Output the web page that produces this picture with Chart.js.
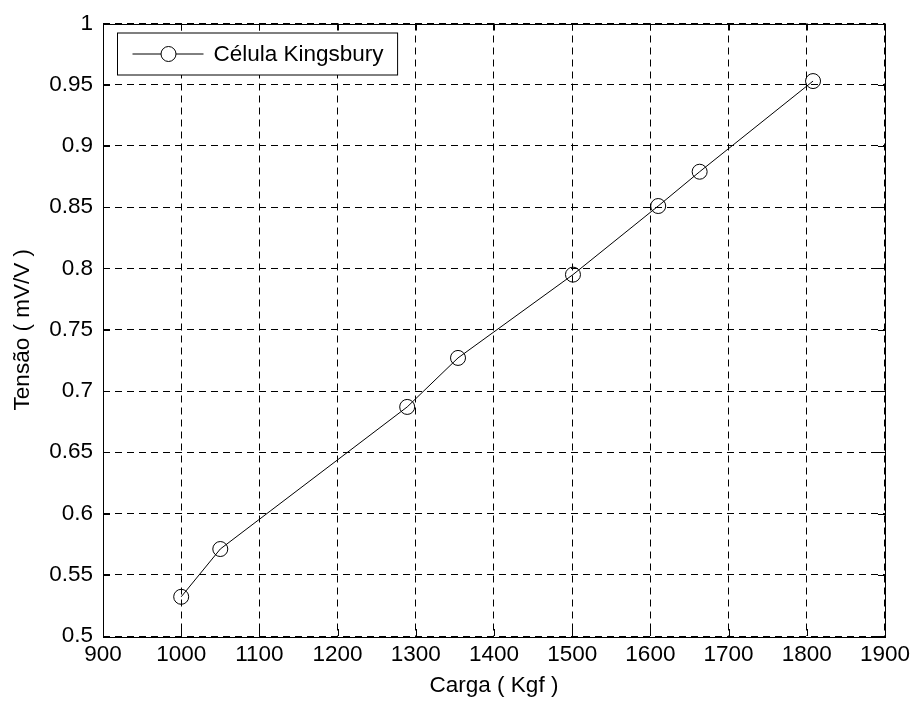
<!DOCTYPE html>
<html>
<head>
<meta charset="utf-8">
<script src="https://cdn.jsdelivr.net/npm/chart.js@4"></script>
<style>
  html, body { margin:0; padding:0; background:#fff; }
  canvas { display:block; }
</style>
</head>
<body>
<canvas id="kingsburyChart" width="915" height="702"></canvas>
<script>
const seriesLabel = "Célula Kingsbury";
const cargaKgf = [1000, 1050, 1289, 1354, 1501, 1610, 1663, 1808];
const tensaoMvV = [0.532, 0.571, 0.687, 0.727, 0.795, 0.851, 0.879, 0.953];
const xTicks = [900, 1000, 1100, 1200, 1300, 1400, 1500, 1600, 1700, 1800, 1900];
const yTicks = [0.5, 0.55, 0.6, 0.65, 0.7, 0.75, 0.8, 0.85, 0.9, 0.95, 1];
const yTickLabels = ["0.5", "0.55", "0.6", "0.65", "0.7", "0.75", "0.8", "0.85", "0.9", "0.95", "1"];

const FONT = "Liberation Sans, Arial, sans-serif";
const FS = 22.5;

// matlab style box + inward ticks + legend
const matlabFrame = {
  id:"matlabFrame",
  afterDraw(chart){
    const { ctx, chartArea:a, scales } = chart;
    const tl = 7;
    ctx.save();
    ctx.strokeStyle = "#000";
    ctx.lineWidth = 1;
    ctx.setLineDash([]);
    ctx.beginPath();
    scales.x.ticks.forEach(t => {
      const px = Math.round(scales.x.getPixelForValue(t.value)) + .5;
      ctx.moveTo(px, a.bottom); ctx.lineTo(px, a.bottom - tl);
      ctx.moveTo(px, a.top); ctx.lineTo(px, a.top + tl);
    });
    scales.y.ticks.forEach(t => {
      const py = Math.round(scales.y.getPixelForValue(t.value)) + .5;
      ctx.moveTo(a.left, py); ctx.lineTo(a.left + tl, py);
      ctx.moveTo(a.right, py); ctx.lineTo(a.right - tl, py);
    });
    ctx.stroke();
    ctx.strokeRect(Math.round(a.left) + .5, Math.round(a.top) + .5, Math.round(a.right - a.left), Math.round(a.bottom - a.top));

    // legend
    const label = chart.data.datasets[0].label;
    ctx.font = FS + "px " + FONT;
    const tw = ctx.measureText(label).width;
    const bx = a.left + 14.5, by = a.top + 9.5;
    const textX = bx + 96;
    const bw = textX - bx + tw + 14, bh = 42;
    ctx.fillStyle = "#fff";
    ctx.fillRect(bx, by, bw, bh);
    ctx.strokeRect(bx, by, bw, bh);
    const cy = by + bh / 2;
    ctx.beginPath();
    ctx.moveTo(bx + 15, cy); ctx.lineTo(bx + 86, cy);
    ctx.stroke();
    ctx.beginPath();
    ctx.arc(bx + 51, cy, 7.5, 0, Math.PI * 2);
    ctx.fillStyle = "#fff";
    ctx.fill();
    ctx.stroke();
    ctx.fillStyle = "#000";
    ctx.textBaseline = "middle";
    ctx.textAlign = "left";
    ctx.fillText(label, textX, cy + 1);
    ctx.restore();
  }
};

new Chart(document.getElementById("kingsburyChart").getContext("2d"), {
  type:"line",
  data:{
    datasets:[{
      label:seriesLabel,
      data:cargaKgf.map((x, i) => ({ x, y:tensaoMvV[i] })),
      borderColor:"#000",
      borderWidth:1,
      tension:0,
      pointStyle:"circle",
      pointRadius:7.5,
      pointHoverRadius:7.5,
      pointBorderWidth:1,
      pointBorderColor:"#000",
      pointBackgroundColor:"rgba(0,0,0,0)"
    }]
  },
  options:{
    responsive:false,
    animation:false,
    events:[],
    layout:{ padding:{ top:18, right:27, left:0, bottom:0 } },
    plugins:{ legend:{ display:false }, tooltip:{ enabled:false } },
    scales:{
      x:{
        type:"linear",
        min:900, max:1900,
        afterBuildTicks:s => { s.ticks = xTicks.map(v => ({ value:v })); },
        afterFit:s => { s.height = 66; },
        ticks:{ color:"#000", padding:5, font:{ family:FONT, size:FS }, callback:v => String(v), maxRotation:0, autoSkip:false },
        grid:{ color:"#000", lineWidth:1, drawTicks:false },
        border:{ display:false, dash:[7,5] },
        title:{ display:true, text:"Carga ( Kgf )", color:"#000", font:{ family:FONT, size:FS }, padding:{ top:0, bottom:3 } }
      },
      y:{
        type:"linear",
        min:0.5, max:1,
        afterBuildTicks:s => { s.ticks = yTicks.map(v => ({ value:v })); },
        afterFit:s => { s.width = 103; },
        ticks:{ color:"#000", padding:10, font:{ family:FONT, size:FS }, callback:(v, i) => yTickLabels[i], autoSkip:false },
        grid:{ color:"#000", lineWidth:1, drawTicks:false },
        border:{ display:false, dash:[7,5] },
        title:{ display:true, text:"Tensão ( mV/V )", color:"#000", font:{ family:FONT, size:FS }, padding:{ top:9, bottom:0 } }
      }
    }
  },
  plugins:[matlabFrame]
});
</script>
</body>
</html>
